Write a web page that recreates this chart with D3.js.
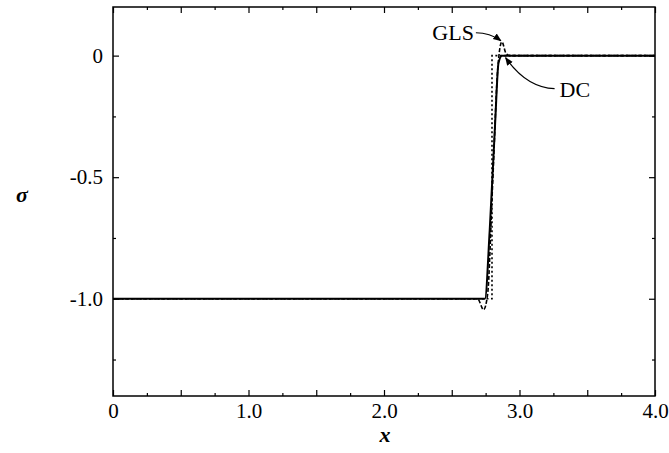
<!DOCTYPE html>
<html>
<head>
<meta charset="utf-8">
<script src="https://cdn.jsdelivr.net/npm/d3@7"></script>
<style>
  body { margin: 0; background: #fff; }
  text { font-family: 'Liberation Serif', 'DejaVu Serif', serif; }
</style>
</head>
<body>
<div id="chart"></div>
<script>
// exact step solution (dotted)
const exactX = [0, 2.797, 2.797, 4.0]
const exactY = [-1, -1, 0, 0]
// GLS solution (dashed), with over/undershoot
const glsX = [0, 2.69, 2.735, 2.765, 2.80, 2.84, 2.87, 2.90, 2.93, 4.0]
const glsY = [-1, -1, -1.045, -0.98, -0.55, -0.05, 0.057, 0.01, 0, 0]
// DC solution (solid)
const dcX = [0, 2.70, 2.745, 2.78, 2.82, 2.845, 2.87, 4.0]
const dcY = [-1, -1, -1.0, -0.72, -0.28, -0.03, 0, 0]

const xTickLabels = [0, 1, 2, 3, 4]
const yTickLabels = [0, -0.5, -1.0]

const margin = { top: 7, right: 14, bottom: 57, left: 113 }
const width = 669 - margin.left - margin.right
const height = 453 - margin.top - margin.bottom

const svg = d3.select('#chart')
  .append('svg')
  .attr('width', 669)
  .attr('height', 453)
  .append('g')
  .attr('transform', `translate(${margin.left},${margin.top})`)

const x = d3.scaleLinear().domain([0, 4]).range([0, width])
const y = d3.scaleLinear().domain([-1.4, 0.2]).range([height, 0])

const toPts = (xs, ys) => xs.map((v, i) => [v, ys[i]])
const line = d3.line().x(d => x(d[0])).y(d => y(d[1]))
// plain hyphen for negatives, like the original
const fmt = d => d === 0 ? '0' : d.toFixed(1)

// inward ticks, major + minor
const xMajor = d3.range(0, 4.01, 0.5)
const xMinor = d3.range(0.25, 4, 0.5)
const yMajor = [0, -0.5, -1.0]
const yMinor = [-0.25, -0.75, -1.25]

const addTicks = (axisGen, vals, len, transform) => {
  svg.append('g')
    .attr('transform', transform)
    .call(axisGen.tickValues(vals).tickSize(len).tickFormat(''))
    .call(g => g.select('.domain').remove())
    .call(g => g.selectAll('line').attr('stroke-width', 1.2))
}
addTicks(d3.axisTop(x), xMajor, 6, `translate(0,${height})`)
addTicks(d3.axisTop(x), xMinor, 3, `translate(0,${height})`)
addTicks(d3.axisBottom(x), xMajor, 6, 'translate(0,0)')
addTicks(d3.axisBottom(x), xMinor, 3, 'translate(0,0)')
addTicks(d3.axisRight(y), yMajor, 6, 'translate(0,0)')
addTicks(d3.axisRight(y), yMinor, 3, 'translate(0,0)')
addTicks(d3.axisLeft(y), yMajor, 6, `translate(${width},0)`)
addTicks(d3.axisLeft(y), yMinor, 3, `translate(${width},0)`)

// tick labels
svg.append('g')
  .attr('transform', `translate(0,${height})`)
  .call(d3.axisBottom(x).tickValues(xTickLabels).tickSize(0).tickPadding(7).tickFormat(fmt))
  .call(g => g.select('.domain').remove())
  .selectAll('text')
  .attr('font-size', 21)
  .attr('font-family', "'Liberation Serif', serif")
  .attr('fill', '#000')

svg.append('g')
  .call(d3.axisLeft(y).tickValues(yTickLabels).tickSize(0).tickPadding(10).tickFormat(fmt))
  .call(g => g.select('.domain').remove())
  .selectAll('text')
  .attr('font-size', 21)
  .attr('font-family', "'Liberation Serif', serif")
  .attr('fill', '#000')

// frame
svg.append('rect')
  .attr('width', width)
  .attr('height', height)
  .attr('fill', 'none')
  .attr('stroke', '#000')
  .attr('stroke-width', 1.5)

// curves
svg.append('path')
  .attr('d', line(toPts(exactX, exactY)))
  .attr('fill', 'none')
  .attr('stroke', '#000')
  .attr('stroke-width', 1.6)
  .attr('stroke-dasharray', '2,2.5')

svg.append('path')
  .attr('d', line.curve(d3.curveMonotoneX)(toPts(glsX, glsY)))
  .attr('fill', 'none')
  .attr('stroke', '#000')
  .attr('stroke-width', 1.6)
  .attr('stroke-dasharray', '4,2')

svg.append('path')
  .attr('d', line.curve(d3.curveMonotoneX)(toPts(dcX, dcY)))
  .attr('fill', 'none')
  .attr('stroke', '#000')
  .attr('stroke-width', 2)

// annotations
svg.append('defs').append('marker')
  .attr('id', 'arr')
  .attr('viewBox', '0 0 10 10')
  .attr('refX', 9).attr('refY', 5)
  .attr('markerWidth', 7).attr('markerHeight', 7)
  .attr('orient', 'auto')
  .append('path')
  .attr('d', 'M0,1 L10,5 L0,9 Z')
  .attr('fill', '#000')

const gx = x(2.87), gy = y(0.057)
svg.append('text')
  .attr('x', gx - 28).attr('y', gy - 2)
  .attr('text-anchor', 'end')
  .attr('font-size', 22)
  .text('GLS')
svg.append('path')
  .attr('d', `M${gx - 26},${gy - 9} Q${gx - 12},${gy - 9} ${gx - 1},${gy - 1}`)
  .attr('fill', 'none')
  .attr('stroke', '#000')
  .attr('stroke-width', 1.2)
  .attr('marker-end', 'url(#arr)')

const dx = x(2.89), dy = y(0.0)
svg.append('text')
  .attr('x', dx + 55).attr('y', dy + 41)
  .attr('font-size', 22)
  .text('DC')
svg.append('path')
  .attr('d', `M${dx + 50},${dy + 33} Q${dx + 22},${dy + 32} ${dx + 1},${dy + 2}`)
  .attr('fill', 'none')
  .attr('stroke', '#000')
  .attr('stroke-width', 1.2)
  .attr('marker-end', 'url(#arr)')

// axis titles
svg.append('text')
  .attr('x', width / 2 + 1)
  .attr('y', height + 46)
  .attr('text-anchor', 'middle')
  .attr('font-size', 22)
  .attr('font-weight', 'bold')
  .attr('font-style', 'italic')
  .text('x')

svg.append('text')
  .attr('x', -margin.left + 22)
  .attr('y', y(-0.6))
  .attr('text-anchor', 'middle')
  .attr('font-size', 22)
  .attr('font-weight', 'bold')
  .attr('font-style', 'italic')
  .text('σ')
</script>
</body>
</html>
